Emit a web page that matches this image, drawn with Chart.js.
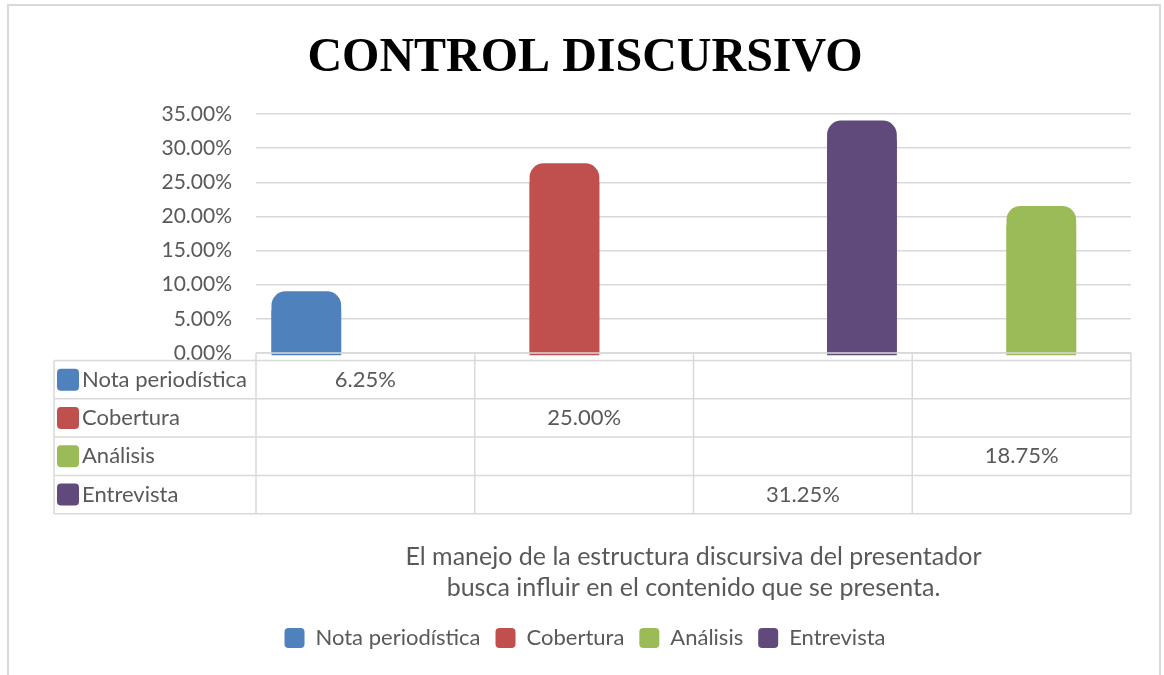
<!DOCTYPE html>
<html>
<head>
<meta charset="utf-8">
<script src="https://cdn.jsdelivr.net/npm/chart.js@4.4.1/dist/chart.umd.min.js"></script>
<style>
  html, body { margin:0; padding:0; background:#fff; }
  #wrap { position:relative; width:1164px; height:675px; }
</style>
</head>
<body>
<div id="wrap"><canvas id="mainChart"></canvas></div>
<script>
  // data
  const categories = ['', '', '', ''];
  const seriesNames = ['Nota periodística', 'Cobertura', 'Análisis', 'Entrevista'];
  const notaValues = [6.25, null, null, null];
  const coberturaValues = [null, 25.00, null, null];
  const analisisValues = [null, null, null, 18.75];
  const entrevistaValues = [null, null, 31.25, null];
  const yTickValues = [0, 5, 10, 15, 20, 25, 30, 35];
  const axisTitle = ['El manejo de la estructura discursiva del presentador', 'busca influir en el contenido que se presenta.'];

  const colors = ['#4f81bd', '#c0504d', '#9bbb59', '#604a7b'];
  const textColor = '#595959';
  const lineColor = '#d9d9d9';
  const FONT = 'Lato, "Open Sans", sans-serif';

  const pct = v => v.toFixed(2) + '%';

  // excel-style cylinder: rounded top sticking a bit above the value
  const CAP = 19, FOOT = 3, RADIUS = 14;
  const cylinderTops = {
    id: 'cylinderTops',
    afterDatasetsDraw(chart) {
      const ctx = chart.ctx;
      chart.data.datasets.forEach((ds, i) => {
        chart.getDatasetMeta(i).data.forEach((bar, j) => {
          if (ds.data[j] == null) return;
          const p = bar.getProps(['x', 'y', 'base', 'width'], true);
          ctx.save();
          ctx.fillStyle = ds.backgroundColor;
          ctx.beginPath();
          ctx.roundRect(p.x - p.width / 2, p.y - CAP, p.width, p.base - p.y + CAP + FOOT, [RADIUS, RADIUS, 0, 0]);
          ctx.fill();
          ctx.restore();
        });
      });
    }
  };

  // data table under the plot
  const TABLE_LEFT = 54, ROW_GAP = 7.5, ROW_H = 38.3;
  const dataTable = {
    id: 'dataTable',
    afterDraw(chart) {
      const ctx = chart.ctx, xs = chart.scales.x, ys = chart.scales.y;
      const axisY = ys.getPixelForValue(0);
      const top = axisY + ROW_GAP;
      const n = chart.data.datasets.length;
      const bottom = top + ROW_H * n;
      const step = xs.width / categories.length;
      ctx.save();
      ctx.strokeStyle = lineColor;
      ctx.lineWidth = 1.5;
      ctx.beginPath();
      ctx.moveTo(xs.left, axisY); ctx.lineTo(xs.right, axisY);
      for (let r = 0; r <= n; r++) {
        ctx.moveTo(TABLE_LEFT, top + r * ROW_H); ctx.lineTo(xs.right, top + r * ROW_H);
      }
      ctx.moveTo(TABLE_LEFT, top); ctx.lineTo(TABLE_LEFT, bottom);
      for (let c = 0; c <= categories.length; c++) {
        const x = xs.left + c * step;
        ctx.moveTo(x, axisY); ctx.lineTo(x, bottom);
      }
      ctx.stroke();

      ctx.font = '22px ' + FONT;
      ctx.textBaseline = 'middle';
      chart.data.datasets.forEach((ds, r) => {
        const cy = top + r * ROW_H + ROW_H / 2;
        ctx.fillStyle = ds.backgroundColor;
        ctx.beginPath();
        ctx.roundRect(TABLE_LEFT + 3, cy - 11, 22, 22, 4);
        ctx.fill();
        ctx.fillStyle = textColor;
        ctx.textAlign = 'left';
        ctx.fillText(ds.label, TABLE_LEFT + 28, cy);
        ctx.textAlign = 'center';
        ds.data.forEach((v, c) => {
          if (v == null) return;
          ctx.fillText(pct(v), xs.getPixelForValue(c), cy);
        });
      });
      ctx.restore();
    }
  };

  const frame = {
    id: 'frame',
    beforeDraw(chart) {
      const ctx = chart.ctx;
      ctx.save();
      ctx.strokeStyle = lineColor;
      ctx.lineWidth = 2;
      ctx.strokeRect(8, 5, 1152, 700);
      ctx.restore();
    }
  };

  const seriesValues = [notaValues, coberturaValues, analisisValues, entrevistaValues];
  const datasets = seriesNames.map((name, i) => ({
    label: name,
    data: seriesValues[i],
    backgroundColor: colors[i],
    borderWidth: 0,
    categoryPercentage: 0.72,
    barPercentage: 1.77
  }));

  Chart.defaults.font.family = FONT;
  Chart.defaults.color = textColor;

  new Chart(document.getElementById('mainChart').getContext('2d'), {
    type: 'bar',
    data: { labels: categories, datasets: datasets },
    plugins: [frame, cylinderTops, dataTable],
    options: {
      responsive: true, maintainAspectRatio: false, animation: false,
      layout: { padding: { left: 39, right: 33, top: 0, bottom: 16 } },
      plugins: {
        title: {
          display: true, text: 'CONTROL DISCURSIVO', color: '#000',
          font: { family: '"Liberation Serif", "Times New Roman", serif', size: 48, weight: 'bold', lineHeight: 1.2 },
          padding: { top: 30, bottom: 26.4 }
        },
        legend: {
          position: 'bottom',
          labels: { font: { size: 22 }, boxWidth: 20, boxHeight: 20, padding: 15, useBorderRadius: true, borderRadius: 4, color: textColor }
        },
        tooltip: { enabled: false }
      },
      scales: {
        x: {
          grid: { display: false },
          border: { display: false },
          ticks: { display: false },
          title: { display: true, text: axisTitle, font: { size: 25, lineHeight: 1.24 }, color: textColor, padding: { top: 0, bottom: 8.5 } },
          afterFit(scale) { scale.height = 259; }
        },
        y: {
          min: 0, max: 35,
          afterBuildTicks(scale) { scale.ticks = yTickValues.map(v => ({ value: v })); },
          ticks: { callback: v => pct(v), font: { size: 21 }, padding: 24, color: textColor },
          grid: { color: lineColor, lineWidth: 1.5, drawTicks: false },
          border: { display: false },
          afterFit(scale) { scale.width = 217; }
        }
      }
    }
  });
</script>
</body>
</html>
